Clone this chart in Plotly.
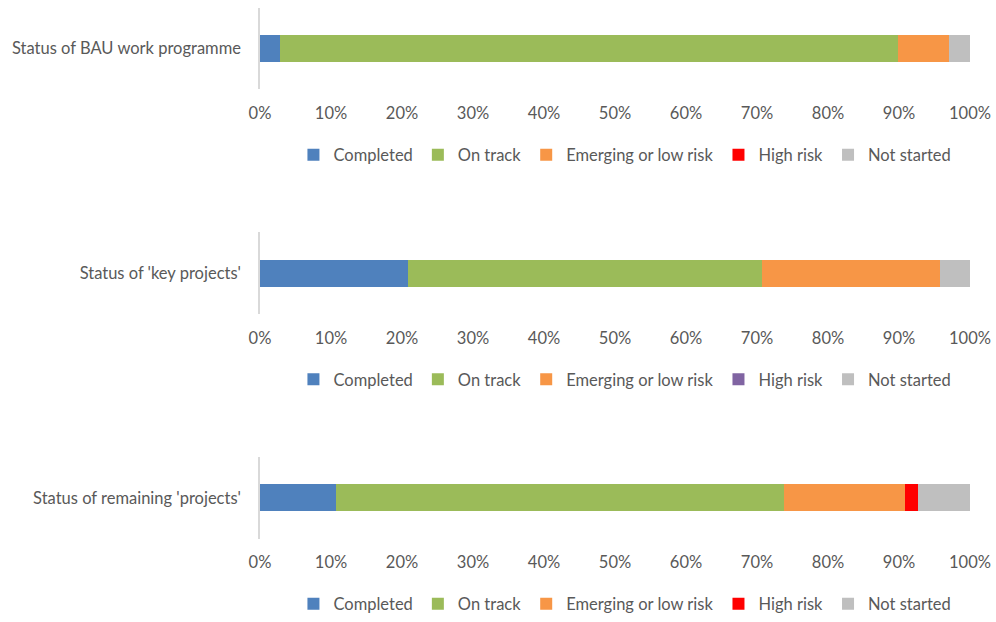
import plotly.graph_objects as go

categories = ["Status of BAU work programme", "Status of 'key projects'", "Status of remaining 'projects'"]
statuses = ["Completed", "On track", "Emerging or low risk", "High risk", "Not started"]
bau_values = [2.8, 87.0, 7.2, 0.0, 3.0]
key_values = [20.8, 49.9, 25.1, 0.0, 4.2]
remaining_values = [10.7, 63.1, 17.0, 1.9, 7.3]
series_values = [bau_values, key_values, remaining_values]
tick_values = [0, 10, 20, 30, 40, 50, 60, 70, 80, 90, 100]
tick_labels = [f"{v}%" for v in tick_values]

colors_default = ["#4f81bd", "#9bbb59", "#f79646", "#ff0000", "#bfbfbf"]
colors_middle = ["#4f81bd", "#9bbb59", "#f79646", "#8064a2", "#bfbfbf"]
palettes = [colors_default, colors_middle, colors_default]

H = 622
FONT = dict(family="Lato", size=16.5, color="#595959")

# pixel layout of each panel: (axis top, axis bottom, legend centre)
panels = [(8, 90, 156), (234, 316, 382), (460, 542, 608)]

fig = go.Figure()
layout = dict()
for i, (cat, vals, pal) in enumerate(zip(categories, series_values, palettes)):
    n = "" if i == 0 else str(i + 1)
    for s, v, c in zip(statuses, vals, pal):
        fig.add_trace(go.Bar(
            x=[v], y=[cat], orientation="h", name=s,
            marker=dict(color=c, line=dict(width=0)),
            width=0.33, xaxis="x" + n, yaxis="y" + n,
            legend="legend" + n, hovertemplate=s + ": %{x}%<extra></extra>",
        ))
    top, bot, leg = panels[i]
    layout["yaxis" + n] = dict(
        domain=[1 - bot / H, 1 - top / H], anchor="x" + n,
        showline=True, linecolor="#d9d9d9", linewidth=1.5,
        ticks="outside", ticklen=14, tickcolor="rgba(0,0,0,0)",
        tickfont=FONT, showgrid=False, zeroline=False, fixedrange=True,
    )
    layout["xaxis" + n] = dict(
        range=[0, 100], anchor="y" + n, tickvals=tick_values, ticktext=tick_labels,
        showgrid=False, zeroline=False, showline=False,
        ticks="outside", ticklen=9, tickcolor="rgba(0,0,0,0)",
        tickfont=FONT, fixedrange=True,
    )
    layout["legend" + n] = dict(
        orientation="h", x=0.514, xanchor="center", y=1 - leg / H, yanchor="middle",
        font=FONT, traceorder="normal", bgcolor="rgba(0,0,0,0)",
    )

fig.update_layout(
    barmode="stack", width=996, height=622,
    margin=dict(l=260, r=26, t=0, b=0),
    paper_bgcolor="white", plot_bgcolor="white",
    font=FONT, **layout,
)
fig.write_html("out.html")
